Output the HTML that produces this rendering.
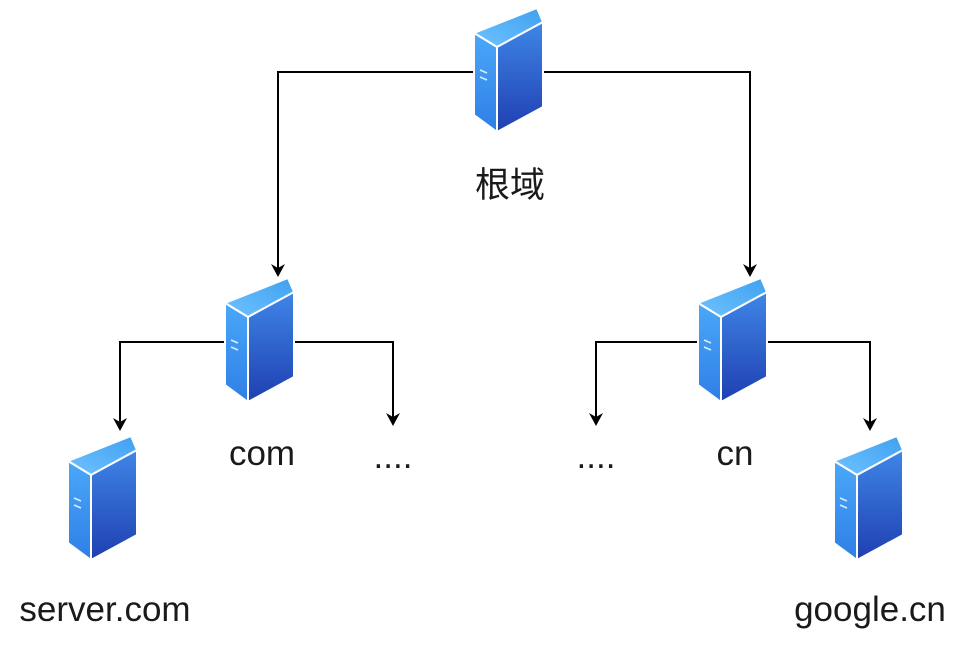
<!DOCTYPE html>
<html><head><meta charset="utf-8"><style>
body{margin:0;background:#fff;}
svg text{font-family:"Liberation Sans","Noto Sans CJK SC",sans-serif;font-size:35px;fill:#1a1a1a;text-anchor:middle;}
</style></head><body>
<svg width="968" height="646" viewBox="0 0 968 646" xmlns="http://www.w3.org/2000/svg">
<defs>
<linearGradient id="top" x1="0" y1="1" x2="1" y2="0"><stop offset="0" stop-color="#6fc3ff"/><stop offset="1" stop-color="#3fa0f0"/></linearGradient>
<linearGradient id="lf" x1="0" y1="0" x2="0" y2="1"><stop offset="0" stop-color="#4aa8f8"/><stop offset="1" stop-color="#2f7fe6"/></linearGradient>
<linearGradient id="rf" x1="0" y1="0" x2="0" y2="1"><stop offset="0" stop-color="#3f86e8"/><stop offset="1" stop-color="#1f3fb0"/></linearGradient>
<g id="srv">
<polygon points="0,25 63,0 69,14 23,39" fill="url(#top)" stroke="#fff" stroke-width="2"/>
<polygon points="0,25 23,39 23,124 0,107" fill="url(#lf)" stroke="#fff" stroke-width="2"/>
<polygon points="23,39 69,14 69,99 23,124" fill="url(#rf)" stroke="#fff" stroke-width="2"/>
<line x1="6" y1="62" x2="13" y2="65" stroke="#d8eeff" stroke-width="1.5"/>
<line x1="6" y1="69" x2="13" y2="72" stroke="#d8eeff" stroke-width="1.5"/>
</g>
</defs>
<g fill="none" stroke="#000" stroke-width="2">
<path d="M473,72 H278 V268"/>
<path d="M543,72 H750 V268"/>
<path d="M224,342 H120 V422"/>
<path d="M295,342 H393 V417"/>
<path d="M697,342 H596 V417"/>
<path d="M768,342 H870 V422"/>
</g>
<g fill="#000">
<path d="M271,264 L278,277 L285,264 L278,268 Z"/>
<path d="M743,264 L750,277 L757,264 L750,268 Z"/>
<path d="M113,418 L120,431 L127,418 L120,422 Z"/>
<path d="M386,413 L393,426 L400,413 L393,417 Z"/>
<path d="M589,413 L596,426 L603,413 L596,417 Z"/>
<path d="M863,418 L870,431 L877,418 L870,422 Z"/>
</g>
<use href="#srv" x="474" y="8"/>
<use href="#srv" x="225" y="278"/>
<use href="#srv" x="698" y="278"/>
<use href="#srv" x="68" y="436"/>
<use href="#srv" x="834" y="436"/>
<text x="510" y="197">根域</text>
<text x="262" y="465">com</text>
<text x="393" y="468">....</text>
<text x="596" y="468">....</text>
<text x="735" y="465">cn</text>
<text x="105" y="621">server.com</text>
<text x="870" y="621">google.cn</text>
</svg>
</body></html>
